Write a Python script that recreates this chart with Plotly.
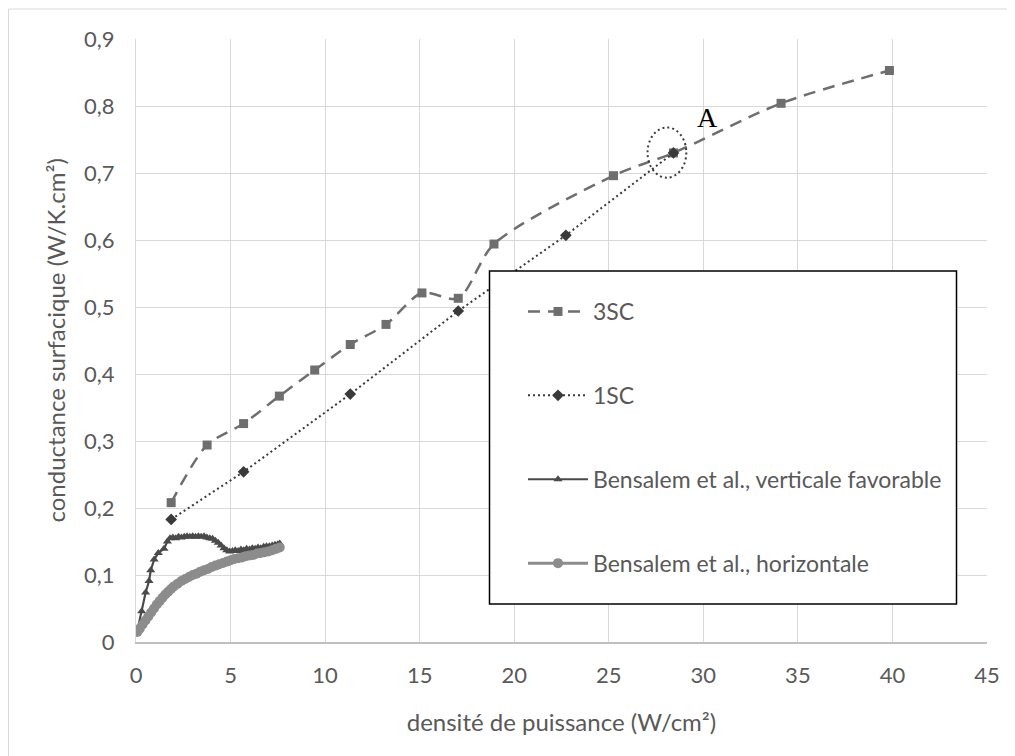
import plotly.graph_objects as go

# ---- data ----
x_3sc = [1.86, 3.76, 5.69, 7.58, 9.45, 11.33, 13.22, 15.12, 17.04, 18.93, 25.25, 28.42, 34.11, 39.84]
y_3sc = [0.208, 0.294, 0.326, 0.367, 0.406, 0.444, 0.474, 0.521, 0.513, 0.594, 0.696, 0.730, 0.804, 0.853]

x_1sc = [1.86, 5.69, 11.33, 17.04, 22.73, 28.42]
y_1sc = [0.183, 0.254, 0.370, 0.494, 0.607, 0.730]

x_vert = [0.07, 0.30, 0.51, 0.69, 0.78, 0.96, 1.18, 1.48, 1.66, 1.80, 1.95, 2.10, 2.25, 2.40, 2.55,
          2.70, 2.85, 3.00, 3.15, 3.30, 3.45, 3.60, 3.75, 3.90, 4.05, 4.20, 4.35, 4.50, 4.65, 4.80,
          4.95, 5.10, 5.25, 5.40, 5.55, 5.70, 5.85, 6.00, 6.15, 6.30, 6.45, 6.60, 6.75, 6.90, 7.05,
          7.20, 7.35, 7.50, 7.60]
y_vert = [0.017, 0.046, 0.074, 0.091, 0.107, 0.123, 0.133, 0.139, 0.150, 0.155, 0.156, 0.155, 0.157, 0.156, 0.157,
          0.158, 0.157, 0.158, 0.157, 0.158, 0.157, 0.158, 0.156, 0.155, 0.154, 0.151, 0.148, 0.144, 0.140, 0.137,
          0.135, 0.136, 0.137, 0.136, 0.138, 0.137, 0.139, 0.138, 0.140, 0.139, 0.141, 0.140, 0.142, 0.143, 0.143,
          0.144, 0.145, 0.146, 0.147]

x_horiz = [0.07, 0.20, 0.35, 0.50, 0.65, 0.80, 0.95, 1.10, 1.25, 1.40, 1.55, 1.70, 1.85, 2.00, 2.20,
           2.40, 2.60, 2.80, 3.00, 3.20, 3.40, 3.60, 3.80, 4.00, 4.20, 4.40, 4.60, 4.80, 5.00, 5.20,
           5.40, 5.60, 5.80, 6.00, 6.20, 6.40, 6.60, 6.80, 7.00, 7.20, 7.40, 7.60]
y_horiz = [0.015, 0.020, 0.026, 0.032, 0.038, 0.044, 0.050, 0.056, 0.061, 0.066, 0.071, 0.075, 0.079, 0.083, 0.087,
           0.091, 0.094, 0.097, 0.100, 0.102, 0.105, 0.107, 0.109, 0.112, 0.114, 0.116, 0.118, 0.120, 0.122, 0.124,
           0.125, 0.126, 0.128, 0.129, 0.130, 0.132, 0.133, 0.134, 0.135, 0.137, 0.139, 0.141]

x_ticks = [0, 5, 10, 15, 20, 25, 30, 35, 40, 45]
y_ticks = [0, 0.1, 0.2, 0.3, 0.4, 0.5, 0.6, 0.7, 0.8, 0.9]

names = ["3SC", "1SC", "Bensalem et al., verticale favorable", "Bensalem et al., horizontale"]
x_title = "densité de puissance (W/cm²)"
y_title = "conductance surfacique (W/K.cm²)"

FONT = "Lato"
TXT = "#595959"

fig = go.Figure()
fig.add_trace(go.Scatter(
    x=x_3sc, y=y_3sc, name=names[0], legendgroup="a", mode="lines+markers",
    line=dict(color="#6e6e6e", width=2.5, dash="12px,8px", shape="spline", smoothing=0.8),
    marker=dict(symbol="square", size=9, color="#6e6e6e")))
fig.add_trace(go.Scatter(
    x=x_1sc, y=y_1sc, name=names[1], legendgroup="b", mode="lines+markers",
    line=dict(color="#3a3a3a", width=2, dash="2px,3px"),
    marker=dict(symbol="diamond", size=9, color="#3a3a3a")))
fig.add_trace(go.Scatter(
    x=x_vert, y=y_vert, name=names[2], legendgroup="c", mode="lines+markers",
    line=dict(color="#4a4a4a", width=2.2),
    marker=dict(symbol="triangle-up", size=8, color="#4a4a4a")))
fig.add_trace(go.Scatter(
    x=x_horiz, y=y_horiz, name=names[3], legendgroup="d", mode="lines+markers",
    line=dict(color="#8c8c8c", width=3),
    marker=dict(symbol="circle", size=10, color="#8c8c8c")))

# figure geometry (page has an 8px body margin, so the figure is 8px smaller)
W, H = 1007, 748
L, R, T, B = 128, 28, 31, 114
OFF = 8
pw, ph = W - L - R, H - T - B
def px_x(p): return (p - OFF - L) / pw       # screen px -> paper x
def px_y(p): return (H - B - (p - OFF)) / ph  # screen px -> paper y

shapes = [
    # outer chart border (partially visible)
    dict(type="rect", xref="paper", yref="paper", x0=px_x(8.5), x1=px_x(1040), y0=px_y(790), y1=px_y(9),
         line=dict(color="#d9d9d9", width=1), fillcolor="rgba(0,0,0,0)", layer="below"),
    # legend box
    dict(type="rect", xref="paper", yref="paper", x0=px_x(489.5), x1=px_x(956.5), y0=px_y(604), y1=px_y(271),
         line=dict(color="black", width=1.5), fillcolor="white", layer="above"),
    # dotted ellipse around point A
    dict(type="circle", xref="x", yref="y", x0=27.05, x1=29.1, y0=0.693, y1=0.768,
         line=dict(color="#3a3a3a", width=2, dash="2px,3px"), layer="above"),
]

fig.update_layout(
    width=W, height=H,
    margin=dict(l=L, r=R, t=T, b=B),
    paper_bgcolor="white", plot_bgcolor="white",
    separators=", ",
    font=dict(family=FONT, size=22, color=TXT),
    shapes=shapes,
    showlegend=True,
    legend=dict(x=px_x(523), y=px_y(290), xanchor="left", yanchor="top",
                bgcolor="rgba(0,0,0,0)", borderwidth=0, tracegroupgap=51,
                font=dict(family=FONT, size=23, color=TXT), itemwidth=60),
    annotations=[
        dict(x=30.2, y=0.783, xref="x", yref="y", text="A", showarrow=False,
             font=dict(family="Liberation Serif", size=28, color="black")),
        dict(x=px_x(55), y=0.5, xref="paper", yref="paper", text=y_title, textangle=-90,
             showarrow=False, xanchor="center", yanchor="middle",
             font=dict(family=FONT, size=24, color=TXT)),
    ],
)
fig.update_xaxes(range=[0, 45], tickvals=x_ticks, showgrid=True, gridcolor="#d9d9d9", gridwidth=1,
                 zeroline=False, showline=True, linecolor="#bfbfbf", linewidth=1.5,
                 ticks="outside", ticklen=13, tickcolor="rgba(0,0,0,0)",
                 tickfont=dict(family=FONT, size=22, color=TXT),
                 title=dict(text=x_title, standoff=27,
                            font=dict(family=FONT, size=24, color=TXT)))
fig.update_yaxes(range=[0, 0.9], tickvals=y_ticks, showgrid=True, gridcolor="#d9d9d9", gridwidth=1,
                 zeroline=False, showline=True, linecolor="#d9d9d9", linewidth=1,
                 ticks="outside", ticklen=16, tickcolor="rgba(0,0,0,0)",
                 tickfont=dict(family=FONT, size=22, color=TXT))

fig.write_html("out.html")
